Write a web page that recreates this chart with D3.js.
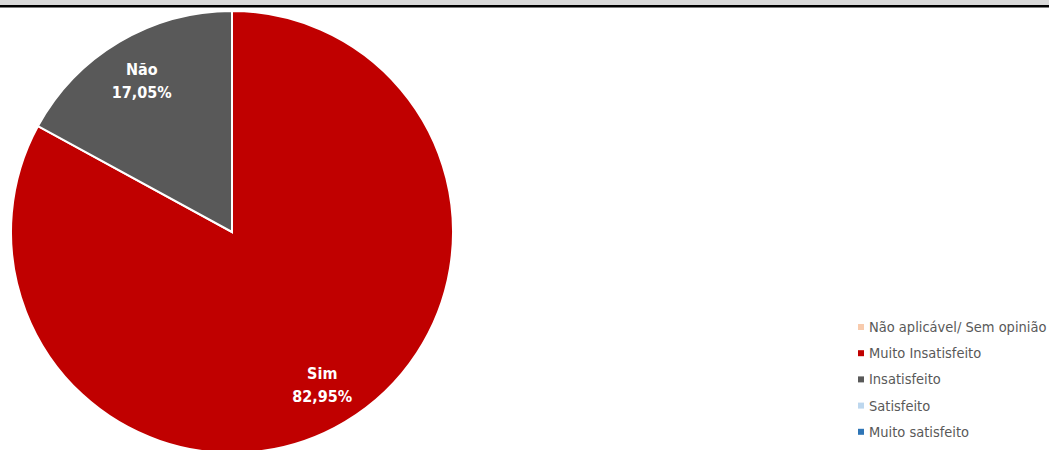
<!DOCTYPE html>
<html>
<head>
<meta charset="utf-8">
<script src="https://cdn.jsdelivr.net/npm/d3@7"></script>
<style>
  body { margin: 0; background: #fff; }
  text { font-family: "DejaVu Sans Condensed", "DejaVu Sans", sans-serif; font-stretch: condensed; }
</style>
</head>
<body>
<div class="chart"></div>
<script>
'use strict';

// slices
var sliceLabels = ["Sim", "Não"];
var sliceValues = [82.95, 17.05];
var sliceColors = ["#c00000", "#595959"];

// legend (as in the source sheet)
var legendLabels = ["Não aplicável/ Sem opinião", "Muito Insatisfeito", "Insatisfeito", "Satisfeito", "Muito satisfeito"];
var legendColors = ["#f8cbad", "#c00000", "#595959", "#bdd7ee", "#2e75b6"];

var width = 1049, height = 450;
var cx = 232, cy = 232, radius = 221;

var svg = d3.select(".chart").append("svg")
  .attr("width", width)
  .attr("height", height);

// header band
svg.append("rect").attr("x", 0).attr("y", 0).attr("width", width).attr("height", 5).attr("fill", "#d9d9d9");
svg.append("rect").attr("x", 0).attr("y", 5).attr("width", width).attr("height", 2.5).attr("fill", "#000");

var data = sliceLabels.map(function(l, i) { return { label: l, value: sliceValues[i], color: sliceColors[i] }; });

var pie = d3.pie().sort(null).value(function(d) { return d.value; });
var arc = d3.arc().innerRadius(0).outerRadius(radius);
var labelArc = d3.arc().innerRadius(radius * 0.8).outerRadius(radius * 0.8);

var g = svg.append("g").attr("transform", "translate(" + cx + "," + cy + ")");

g.selectAll("path.slice")
  .data(pie(data))
  .enter().append("path")
  .attr("class", "slice")
  .attr("d", arc)
  .attr("fill", function(d) { return d.data.color; })
  .attr("stroke", "#fff")
  .attr("stroke-width", 2);

var labels = g.selectAll("text.lbl")
  .data(pie(data))
  .enter().append("text")
  .attr("class", "lbl")
  .attr("transform", function(d) {
    var c = labelArc.centroid(d);
    return "translate(" + c[0] + "," + c[1] + ")";
  })
  .attr("text-anchor", "middle")
  .attr("fill", "#fff")
  .attr("font-size", 16)
  .attr("font-weight", "bold");

labels.append("tspan").attr("x", 0).attr("dy", "-0.3em").text(function(d) { return d.data.label; });
labels.append("tspan").attr("x", 0).attr("dy", "1.4em").text(function(d) {
  return d.data.value.toFixed(2).replace(".", ",") + "%";
});

// legend
var legend = svg.append("g").attr("transform", "translate(858,327)");
var items = legend.selectAll("g")
  .data(legendLabels)
  .enter().append("g")
  .attr("transform", function(d, i) { return "translate(0," + (i * 26.2) + ")"; });

items.append("rect")
  .attr("x", 0).attr("y", -3)
  .attr("width", 6).attr("height", 6)
  .attr("fill", function(d, i) { return legendColors[i]; });

items.append("text")
  .attr("x", 11).attr("y", 0)
  .attr("dy", "0.35em")
  .attr("font-size", 14.5)
  .attr("fill", "#595959")
  .text(function(d) { return d; });
</script>
</body>
</html>
